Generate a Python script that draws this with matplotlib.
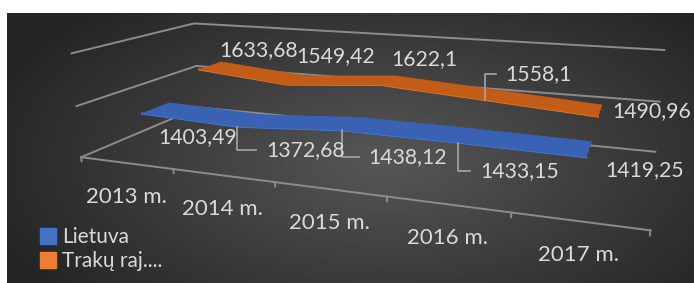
import matplotlib.pyplot as plt
import numpy as np
from matplotlib.patches import Patch
from mpl_toolkits.mplot3d import proj3d
from mpl_toolkits.mplot3d.art3d import Poly3DCollection

plt.rcParams['font.family'] = ['Lato', 'DejaVu Sans']

years = ["2013 m.", "2014 m.", "2015 m.", "2016 m.", "2017 m."]
lietuva = [1403.49, 1372.68, 1438.12, 1433.15, 1419.25]
traku = [1633.68, 1549.42, 1622.1, 1558.1, 1490.96]
series_names = ["Lietuva", "Trakų raj...."]
value_grid = [1000, 1500, 2000]

blue, blue_edge = "#3a62b4", "#3f7fe6"
orange, orange_edge = "#c35c17", "#f57b22"
grid_c = "#8c8c8c"
text_c = "#d9d9d9"
W, H = 694, 283

fig = plt.figure(figsize=(W / 100, H / 100), dpi=100)

# dark radial background
bg = fig.add_axes([7 / W, 0, 687 / W, 270 / H])
yy, xx = np.mgrid[0:1:200j, 0:1:400j]
r = np.sqrt(((xx - 0.55) / 0.62) ** 2 + ((yy - 0.55) / 0.8) ** 2)
shade = np.clip(0.34 - 0.2 * r, 0.145, 0.34)
bg.imshow(shade, cmap='gray', vmin=0, vmax=1, aspect='auto', extent=[0, 1, 0, 1])
bg.axis('off')

# 3d box, view fitted to the excel perspective
ax = fig.add_axes([20.58 / W, 33.81 / H, 1, 1], projection='3d')
ax.patch.set_alpha(0)
ax.set_xlim(0, 5)
ax.set_ylim(0, 2)
ax.set_zlim(1000, 2000)
ax.view_init(elev=13.917, azim=-69.912)
ax.set_proj_type('persp', focal_length=0.5189)
ax.set_box_aspect((1, 0.4019, 0.1956), zoom=2.0343)
ax.set_axis_off()

nx = len(years)
xc = np.arange(nx) + 0.5

for z in value_grid:
    ax.plot([0, 0, nx], [0, 2, 2], [z, z, z], color=grid_c, lw=1.4, clip_on=False)
ax.plot([0, nx], [0, 0], [1000, 1000], color=grid_c, lw=1.4, clip_on=False)
for i in range(nx + 1):
    ax.plot([i, i], [0, 0], [1000, 960], color=grid_c, lw=1.4, clip_on=False)

hw = 0.22
series = [(lietuva, 0.5, blue, blue_edge), (traku, 1.5, orange, orange_edge)]
for vals, d, col, edge in series:
    quads = []
    for i in range(nx - 1):
        quads.append([(xc[i], d - hw, vals[i]), (xc[i + 1], d - hw, vals[i + 1]),
                      (xc[i + 1], d + hw, vals[i + 1]), (xc[i], d + hw, vals[i])])
    pc = Poly3DCollection(quads, facecolor=col, edgecolor=col, lw=0.5)
    pc.set_clip_on(False)
    ax.add_collection3d(pc)
    ax.plot(xc, [d - hw] * nx, vals, color=edge, lw=1.5, clip_on=False)

fig.canvas.draw()
M = ax.get_proj()


def to_px(x, y, z):
    px, py, _ = proj3d.proj_transform(np.atleast_1d(x), np.atleast_1d(y), np.atleast_1d(z), M)
    return ax.transData.transform(np.column_stack([px, py]))


# flat overlay in pixels for the texts
ov = fig.add_axes([0, 0, 1, 1])
ov.set_xlim(0, W)
ov.set_ylim(0, H)
ov.axis('off')

tick_pts = to_px(xc, np.zeros(nx), np.full(nx, 1000.0))
for (tx, ty), lab in zip(tick_pts, years):
    ov.text(tx, ty - 34, lab, color=text_c, fontsize=16, ha='center', va='center')

# label offsets (px) from each point, and which labels use a leader line
lab_off = [[(56, -24), (68, -23.5), (66, -26.5), (62, -28.5), (58, -13)],
           [(59, 19.5), (49, 28.5), (43, 25.5), (54, 25.5), (54, 5.5)]]
leaders = [[False, True, True, True, False],
           [False, False, False, True, False]]
renderer = fig.canvas.get_renderer()
for k, (vals, d, col, edge) in enumerate(series):
    pts = to_px(xc, np.full(nx, d - hw), np.array(vals))
    for i, v in enumerate(vals):
        s = f"{v:g}".replace('.', ',')
        dx, dy = lab_off[k][i]
        lx, ly = pts[i, 0] + dx, pts[i, 1] + dy
        t = ov.text(lx, ly, s, color=text_c, fontsize=15.3, ha='center', va='center')
        if leaders[k][i]:
            left = t.get_window_extent(renderer).x0 - 10
            ov.plot([pts[i, 0], pts[i, 0], left], [pts[i, 1], ly, ly],
                    color="#a6a6a6", lw=1.2)

handles = [Patch(color="#4472c4", label=series_names[0]),
           Patch(color="#ed7d31", label=series_names[1])]
fig.legend(handles=handles, loc='lower left', bbox_to_anchor=(0.03, -0.025),
           frameon=False, fontsize=15, labelcolor=text_c, handlelength=0.8,
           handleheight=0.8, handletextpad=0.3, labelspacing=0.2)

fig.savefig("out.png", dpi=100)
